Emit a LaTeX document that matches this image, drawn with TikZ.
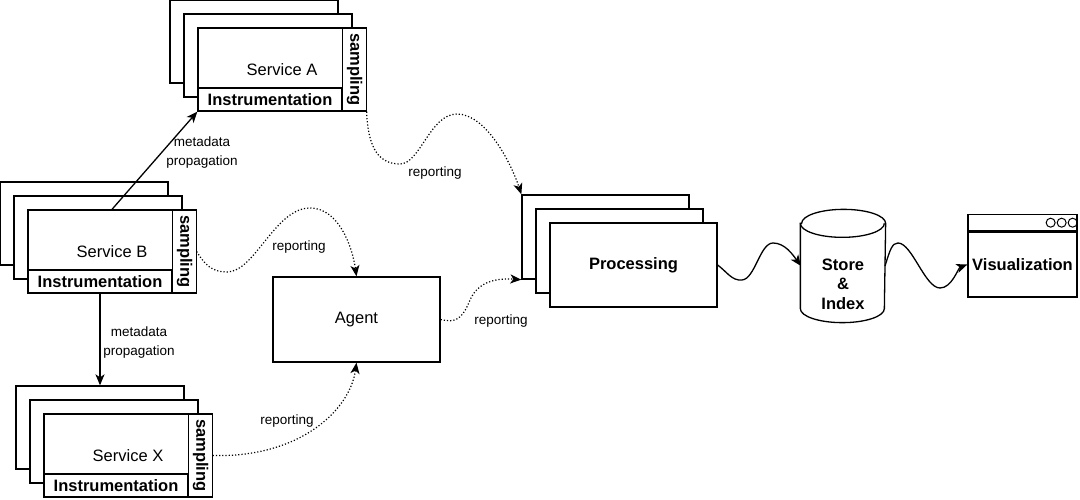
\documentclass[tikz,border=0pt]{standalone}
\usepackage{fontspec}
\setmainfont{Liberation Sans}
\usetikzlibrary{arrows.meta}

\begin{document}
\begin{tikzpicture}[x=1pt, y=-1pt, line width=1.3pt,
  svc_node/.style={draw, fill=white, minimum width=168pt, minimum height=83pt, inner sep=0pt, font=\fontsize{16.5}{19.5}\selectfont},
  instr_node/.style={draw, fill=white, anchor=south west, minimum width=144pt, minimum height=23pt, inner sep=0pt, font=\bfseries\fontsize{16.5}{19.5}\selectfont},
  sampling_node/.style={draw, fill=white, rotate=-90, minimum width=83pt, minimum height=24pt, inner sep=0pt, font=\bfseries\fontsize{16.5}{19.5}\selectfont},
  proc_node/.style={draw, fill=white, minimum width=167pt, minimum height=84pt, inner sep=0pt, font=\bfseries\fontsize{16.5}{19.5}\selectfont},
  bold_text/.style={font=\bfseries\fontsize{16.5}{19.5}\selectfont, align=center, inner sep=0pt},
  edge_label/.style={font=\fontsize{13.5}{19}\selectfont, align=center, inner sep=0pt},
  tip/.style={-{Stealth[length=11pt, width=9pt, inset=3pt]}},
  report_edge/.style={tip, dotted, line width=1.2pt}]
  \useasboundingbox (0,0) rectangle (1080,500);

  % service A
  \node[svc_node] (a3) at (254,41.5) {};
  \node[svc_node] (a2) at (268,55.5) {};
  \node[svc_node] (a1) at (282,69.5) {Service A};
  \node[instr_node] (ai) at (a1.south west) {Instrumentation};
  \node[sampling_node] (as) at ([xshift=-12pt]a1.east) {sampling};

  % service B
  \node[svc_node] (b3) at (84,223.5) {};
  \node[svc_node] (b2) at (98,237.5) {};
  \node[svc_node] (b1) at (112,251.5) {Service B};
  \node[instr_node] (bi) at (b1.south west) {Instrumentation};
  \node[sampling_node] (bs) at ([xshift=-12pt]b1.east) {sampling};

  % service X
  \node[svc_node] (x3) at (100,427.5) {};
  \node[svc_node] (x2) at (114,441.5) {};
  \node[svc_node] (x1) at (128,455.5) {Service X};
  \node[instr_node] (xi) at (x1.south west) {Instrumentation};
  \node[sampling_node] (xs) at ([xshift=-12pt]x1.east) {sampling};

  \node[draw, minimum width=167pt, minimum height=85pt, inner sep=0pt, font=\fontsize{16.5}{19.5}\selectfont] (agent) at (356.5,319.5) {Agent};

  % processing
  \node[proc_node] (p3) at (605.5,237) {};
  \node[proc_node] (p2) at (619.5,251) {};
  \node[proc_node] (p1) at (633.5,265) {Processing};

  % store (cylinder)
  \node[minimum width=84pt, minimum height=112pt, inner sep=0pt] (store) at (843,266) {};
  \draw[fill=white] ([yshift=-14pt]store.north west) -- ([yshift=14pt]store.south west)
    arc[start angle=180, end angle=0, x radius=42, y radius=14]
    -- ([yshift=-14pt]store.north east)
    arc[start angle=0, end angle=-180, x radius=42, y radius=14] -- cycle;
  \draw ([yshift=-14pt]store.north west) arc[start angle=180, end angle=0, x radius=42, y radius=14];
  \node[bold_text] (storetxt) at (843,284) {Store\\\&\\Index};

  \node[draw, minimum width=109pt, minimum height=65pt, inner sep=0pt, font=\bfseries\fontsize{16.5}{19.5}\selectfont] (viz) at (1022.5,264.5) {Visualization};
  \node[draw, minimum width=109pt, minimum height=16pt, inner sep=0pt, anchor=south] (vizbar) at (viz.north) {};
  \draw[line width=1pt] ([xshift=-27pt]vizbar.east) circle (4.5pt) ([xshift=-16pt]vizbar.east) circle (4.5pt) ([xshift=-5pt]vizbar.east) circle (4.5pt);

  % metadata propagation
  \draw[tip] (b1.north) -- (a1.south west);
  \node[edge_label] (mp1) at (202,152.5) {metadata\\propagation};
  \draw[tip] (bi.south) -- (x3.north);
  \node[edge_label] (mp2) at (139,342.5) {metadata\\propagation};

  % reporting
  \draw[report_edge] (a1.south east) .. controls (368,150) and (380,164) .. (400,164)
    .. controls (420,164) and (430,114) .. (457,114)
    .. controls (485,114) and (510,160) .. (p3.north west);
  \node[edge_label] (rp1) at (435,173) {reporting};
  \draw[report_edge] (b1.east) .. controls (205,265) and (212,272) .. (227,272)
    .. controls (255,272) and (275,208) .. (310,208)
    .. controls (338,208) and (352,245) .. (agent.north);
  \node[edge_label] (rp2) at (299,247) {reporting};
  \draw[report_edge] (x1.east) .. controls (300,458) and (350,410) .. (agent.south);
  \node[edge_label] (rp3) at (287,421) {reporting};
  \draw[report_edge] (agent.east) .. controls (455,323) and (462,320) .. (470,300)
    .. controls (478,282) and (495,278) .. (p3.south west);
  \node[edge_label] (rp4) at (501,321) {reporting};

  % data flow
  \draw[tip] (p1.east) .. controls (727,272) and (732,281) .. (742,280)
    .. controls (755,279) and (760,243) .. (773,243)
    .. controls (785,243) and (793,255) .. ([xshift=-42pt]store.center);
  \draw[tip] ([xshift=42pt]store.center) .. controls (890,250) and (892,243) .. (898,243)
    .. controls (912,243) and (925,288) .. (940,288)
    .. controls (952,288) and (958,268) .. (viz.west);
\end{tikzpicture}
\end{document}
